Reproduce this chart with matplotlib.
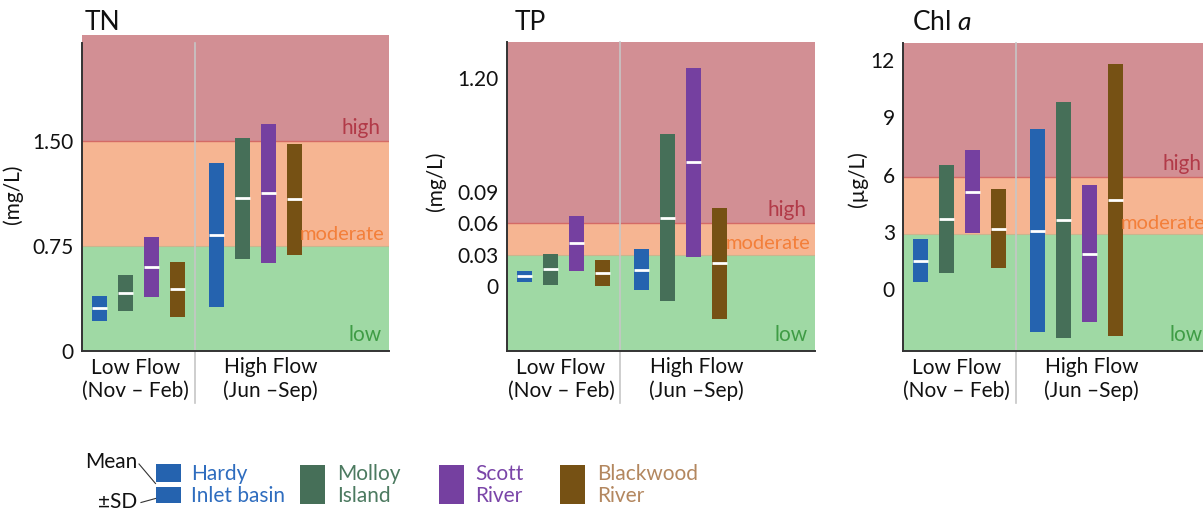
import matplotlib
matplotlib.use("Agg")
import matplotlib.pyplot as plt
import matplotlib.transforms as mtransforms
from matplotlib.patches import Rectangle

plt.rcParams['font.family'] = ['Lato', 'DejaVu Sans']
plt.rcParams['mathtext.fontset'] = 'custom'
plt.rcParams['mathtext.rm'] = 'Lato'
plt.rcParams['mathtext.it'] = 'Lato:italic'

# ---- data -----------------------------------------------------------------
sites = ["Hardy\nInlet basin", "Molloy\nIsland", "Scott\nRiver", "Blackwood\nRiver"]
seasons = ["Low Flow\n(Nov \u2013 Feb)", "High Flow\n(Jun \u2013Sep)"]

# mean and standard deviation, order: Hardy, Molloy, Scott, Blackwood
tn_low_mean = [0.305, 0.415, 0.600, 0.440]
tn_low_sd = [0.089, 0.128, 0.213, 0.196]
tn_high_mean = [0.830, 1.092, 1.125, 1.083]
tn_high_sd = [0.513, 0.432, 0.496, 0.397]

tp_low_mean = [0.0089, 0.0160, 0.0409, 0.0126]
tp_low_sd = [0.0053, 0.0149, 0.0264, 0.0124]
tp_high_mean = [0.0155, 0.0655, 0.1190, 0.0216]
tp_high_sd = [0.0201, 0.0804, 0.0910, 0.0534]

chl_low_mean = [1.46, 3.66, 5.10, 3.16]
chl_low_sd = [1.13, 2.86, 2.19, 2.08]
chl_high_mean = [3.05, 3.60, 1.84, 4.66]
chl_high_sd = [5.33, 6.20, 3.60, 7.15]

# trophic thresholds (low / moderate / high)
tn_thresholds = [0.75, 1.50]
tp_thresholds = [0.03, 0.06]
chl_thresholds = [2.85, 5.85]

tn_ticks = [0, 0.75, 1.50]
tn_ticklabels = ["0", "0.75", "1.50"]
tp_ticks = [0, 0.03, 0.06, 0.09, 0.20]
tp_ticklabels = ["0", "0.03", "0.06", "0.09", "1.20"]
chl_ticks = [0, 3, 6, 9, 12]
chl_ticklabels = ["0", "3", "6", "9", "12"]

# ---- styling --------------------------------------------------------------
bar_colors = ["#2563AF", "#466F58", "#7540A0", "#765114"]
text_colors = ["#2F6DBF", "#4C7A60", "#7A45A8", "#B3875F"]
zone_colors = ["#9FD9A4", "#F6B592", "#D28F94"]
zone_text_colors = ["#3F9C45", "#F37F3A", "#B23A48"]

positions = [0, 1, 2, 3, 4.5, 5.5, 6.5, 7.5]
bar_w = 0.58
xlim = (-0.66, 11.15)
divider_x = 3.68
season_x = [1.4, 6.6]

W, H = 1203, 513
fig = plt.figure(figsize=(W / 100, H / 100), dpi=100)


def px_axes(left, top, right, bottom):
    return fig.add_axes([left / W, 1 - bottom / H, (right - left) / W, (bottom - top) / H])


panels = [
    dict(title="TN", title_x=85, box=(82, 42.7, 389, 351), ylim=(0, 2.202), top_ext=2.257,
         low=(tn_low_mean, tn_low_sd), high=(tn_high_mean, tn_high_sd),
         thr=tn_thresholds, ticks=tn_ticks, labels=tn_ticklabels,
         ylabel="(mg/L)", ylab_pos=(-0.192, 0.51)),
    dict(title="TP", title_x=515, box=(507.3, 42.3, 815, 351), ylim=(-0.0629, 0.2345), top_ext=None,
         low=(tp_low_mean, tp_low_sd), high=(tp_high_mean, tp_high_sd),
         thr=tp_thresholds, ticks=tp_ticks, labels=tp_ticklabels,
         ylabel="(mg/L)", ylab_pos=(-0.198, 0.549)),
    dict(title="Chl $a$", title_x=912, box=(903.3, 42.7, 1210, 351), ylim=(-3.28, 12.93), top_ext=None,
         low=(chl_low_mean, chl_low_sd), high=(chl_high_mean, chl_high_sd),
         thr=chl_thresholds, ticks=chl_ticks, labels=chl_ticklabels,
         ylabel="(\u00b5g/L)", ylab_pos=(-0.114, 0.558)),
]

for p in panels:
    ax = px_axes(*p["box"])
    y0, y1 = p["ylim"]
    ax.set_xlim(*xlim)
    ax.set_ylim(y0, y1)
    ztop = p["top_ext"] if p["top_ext"] else y1
    bounds = [y0, p["thr"][0], p["thr"][1], ztop]
    for i in range(3):
        ax.add_patch(Rectangle((xlim[0], bounds[i]), xlim[1] - xlim[0], bounds[i + 1] - bounds[i],
                               facecolor=zone_colors[i], edgecolor="none", zorder=0, clip_on=False))
    ax.axhline(p["thr"][1], color="#D46A66", lw=1.0, zorder=0.5)
    ax.axhline(p["thr"][0], color="#C9B58E", lw=0.8, zorder=0.5)

    # zone labels
    ax.annotate("high", xy=(1, p["thr"][1]), xycoords=("axes fraction", "data"),
                xytext=(-6, 2.5), textcoords="offset points", ha="right", va="bottom",
                fontsize=15, color=zone_text_colors[2], zorder=3)
    ax.annotate("moderate", xy=(1, p["thr"][0]), xycoords=("axes fraction", "data"),
                xytext=(-3, 2), textcoords="offset points", ha="right", va="bottom",
                fontsize=14.5, color=zone_text_colors[1], zorder=3)
    ax.annotate("low", xy=(1, y0), xycoords=("axes fraction", "data"),
                xytext=(-5, 4.5), textcoords="offset points", ha="right", va="bottom",
                fontsize=15, color=zone_text_colors[0], zorder=3)

    # mean +/- SD bars
    means = list(p["low"][0]) + list(p["high"][0])
    sds = list(p["low"][1]) + list(p["high"][1])
    for k, (x, m, s) in enumerate(zip(positions, means, sds)):
        c = bar_colors[k % 4]
        ax.bar(x, 2 * s, bottom=m - s, width=bar_w, color=c, edgecolor="none", zorder=2)
        ax.hlines(m, x - bar_w / 2, x + bar_w / 2, color="white", lw=2.0, zorder=3)

    # season divider and labels
    trans = mtransforms.blended_transform_factory(ax.transData, ax.transAxes)
    ax.plot([divider_x, divider_x], [1, -0.169], transform=trans, color="#C6C6C6",
            lw=1.2, clip_on=False, zorder=1)
    for sx, lab in zip(season_x, seasons):
        ax.text(sx, -0.0908, lab, transform=trans, ha="center", va="center",
                fontsize=15, linespacing=1.18, color="#111111")

    ax.set_yticks(p["ticks"])
    ax.set_yticklabels(p["labels"])
    ax.set_xticks([])
    ax.tick_params(axis="y", length=0, pad=6, labelsize=15, labelcolor="#111111")
    for s in ["top", "right"]:
        ax.spines[s].set_visible(False)
    for s in ["left", "bottom"]:
        ax.spines[s].set_color("#333333")
        ax.spines[s].set_linewidth(1.4)
        ax.spines[s].set_zorder(4)
    ax.set_ylabel(p["ylabel"], fontsize=15, color="#111111")
    ax.yaxis.set_label_coords(*p["ylab_pos"])

    fig.text(p["title_x"] / W, 1 - 22 / H, p["title"], ha="left", va="center",
             fontsize=19, color="#111111")

# ---- legend ---------------------------------------------------------------
def fx(x):
    return x / W


def fy(y):
    return 1 - y / H


sq_left = [156, 300, 439, 560]
sq_w = 24.5
txt_left = [191, 337, 475, 597]
for i in range(4):
    x0 = sq_left[i]
    if i == 0:
        fig.add_artist(Rectangle((fx(x0), fy(482)), sq_w / W, 18 / H, transform=fig.transFigure,
                                 facecolor=bar_colors[i], edgecolor="none"))
        fig.add_artist(Rectangle((fx(x0), fy(503)), sq_w / W, 16 / H, transform=fig.transFigure,
                                 facecolor=bar_colors[i], edgecolor="none"))
    else:
        fig.add_artist(Rectangle((fx(x0), fy(504)), sq_w / W, 39 / H, transform=fig.transFigure,
                                 facecolor=bar_colors[i], edgecolor="none"))
    fig.text(fx(txt_left[i]), fy(485), sites[i], ha="left", va="center", fontsize=15,
             linespacing=1.12, color=text_colors[i])

fig.text(fx(137), fy(462), "Mean", ha="right", va="center", fontsize=15, color="#111111")
fig.text(fx(137), fy(502), "\u00b1SD", ha="right", va="center", fontsize=15, color="#111111")
fig.add_artist(plt.Line2D([fx(139), fx(155.5)], [fy(464), fy(483.5)], transform=fig.transFigure,
                          color="#333333", lw=0.8))
fig.add_artist(plt.Line2D([fx(141), fx(155.5)], [fy(502.5), fy(498.5)], transform=fig.transFigure,
                          color="#333333", lw=0.8))

fig.savefig("out.png", dpi=100)
